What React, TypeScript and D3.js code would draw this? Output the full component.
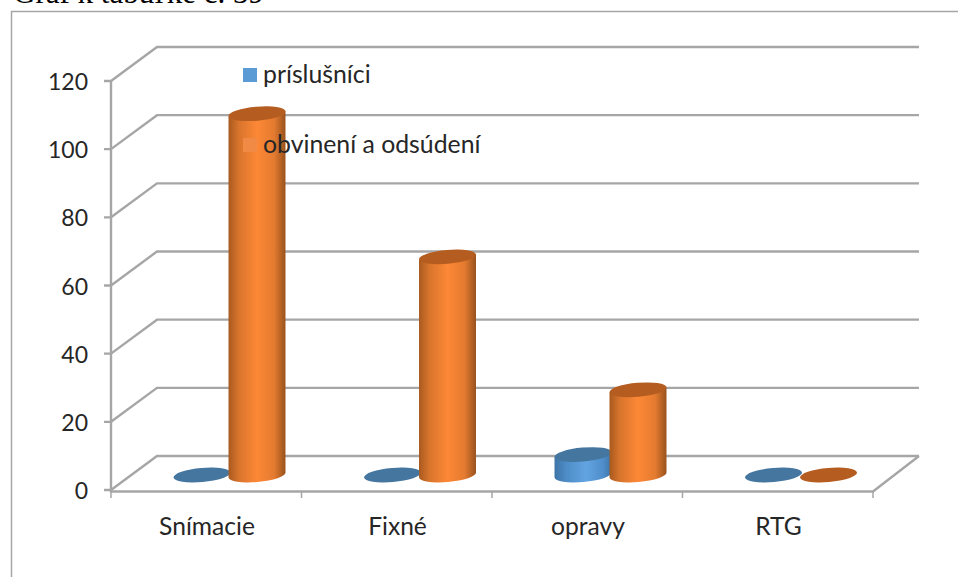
import * as d3 from "d3";

const categories = ["Snímacie", "Fixné", "opravy", "RTG"];
const seriesNames = ["príslušníci", "obvinení a odsúdení"];
const prislusnici = [0, 0, 6, 0];
const obvineni = [106, 64, 25, 0];
const yTicks = [0, 20, 40, 60, 80, 100, 120];

const width = 958;
const height = 577;
const depthX = 46;
const depthY = 34;
const gray = "#a6a6a6";
const textColor = "#262626";
const labelFont = "Lato, sans-serif";

const y = d3.scaleLinear().domain([0, 120]).range([490, 81]);
const x = d3.scaleBand<string>().domain(categories).range([111, 873]);
const inner = d3.scaleBand<string>().domain(seriesNames).range([63.5, 173.5]);

const rx = 28.6;
const ry = 7;
const tilt = -5;
const baseY = y(0) - 15;

// one cylinder, a zero value leaves just the lid
const Cylinder = ({ cx, value, fill, lid }: { cx: number; value: number; fill: string; lid: string }) => {
  const top = baseY - (y(0) - y(value));
  const dy = rx * Math.sin((-tilt * Math.PI) / 180);
  const dx = rx * Math.cos((tilt * Math.PI) / 180);
  const body = `M${cx - dx},${top + dy} L${cx - dx},${baseY + dy} A${rx},${ry} ${tilt} 0 0 ${cx + dx},${baseY - dy} L${cx + dx},${top - dy} Z`;
  return (
    <g>
      {value > 0 && <path d={body} fill={`url(#${fill})`} />}
      <ellipse cx={cx} cy={top} rx={rx} ry={ry} fill={lid} transform={`rotate(${tilt} ${cx} ${top})`} />
    </g>
  );
};

export default function App() {
  return (
    <svg width={width} height={height} style={{ position: "absolute", left: 0, top: 0, background: "#fff" }}>
      <defs>
        <linearGradient id="gradBlue">
          <stop offset="0" stopColor="#3d74a6" />
          <stop offset="0.2" stopColor="#4d8cc6" />
          <stop offset="0.55" stopColor="#62a4e2" />
          <stop offset="0.85" stopColor="#4f8ecb" />
          <stop offset="1" stopColor="#3d74a6" />
        </linearGradient>
        <linearGradient id="gradOrange">
          <stop offset="0" stopColor="#a85a1f" />
          <stop offset="0.18" stopColor="#d8742c" />
          <stop offset="0.5" stopColor="#fd8836" />
          <stop offset="0.8" stopColor="#e47b30" />
          <stop offset="1" stopColor="#99521d" />
        </linearGradient>
      </defs>

      {/* the caption runs off the top of the page in the original too */}
      <text x={13} y={3} fontFamily="'Liberation Serif', serif" fontSize={31} fill="#000">
        Graf k tabuľke č. 39
      </text>
      <path d={`M11.5,${height} V11.5 H${width}`} fill="none" stroke={gray} strokeWidth={1.5} />

      {yTicks.map((t) => (
        <g key={t}>
          <path
            d={`M104,${y(t)} H111 L${111 + depthX},${y(t) - depthY} H${873 + depthX}`}
            fill="none"
            stroke={gray}
            strokeWidth={2.4}
          />
          <text x={88} y={y(t) + 9} textAnchor="end" fontFamily={labelFont} fontSize={23} fill={textColor}>
            {t}
          </text>
        </g>
      ))}

      <path
        d={`M111,${y(120)} V${y(0) + 1.5} H873 L${873 + depthX},${y(0) - depthY}`}
        fill="none"
        stroke={gray}
        strokeWidth={2.4}
      />
      {[...categories.map((c) => x(c) as number), 873].map((t) => (
        <line key={t} x1={t} x2={t} y1={y(0) + 1} y2={y(0) + 8} stroke={gray} strokeWidth={1.5} />
      ))}

      {categories.map((c, i) => {
        const x0 = x(c) as number;
        return (
          <g key={c}>
            <Cylinder
              cx={x0 + (inner(seriesNames[0]) as number) + inner.bandwidth() / 2}
              value={prislusnici[i]}
              fill="gradBlue"
              lid="#44769f"
            />
            <Cylinder
              cx={x0 + (inner(seriesNames[1]) as number) + inner.bandwidth() / 2}
              value={obvineni[i]}
              fill="gradOrange"
              lid="#b55d20"
            />
            <text
              x={x0 + 96}
              y={535}
              textAnchor="middle"
              fontFamily={labelFont}
              fontSize={24.6}
              fill={textColor}
            >
              {c}
            </text>
          </g>
        );
      })}

      <rect x={243} y={68} width={14} height={14} fill="#5b9bd5" />
      <text x={263} y={83} fontFamily={labelFont} fontSize={24.8} fill={textColor}>
        {seriesNames[0]}
      </text>
      <rect x={243} y={138} width={14} height={14} fill="#f08a45" />
      <text x={263} y={153} fontFamily={labelFont} fontSize={24.8} fill={textColor}>
        {seriesNames[1]}
      </text>
    </svg>
  );
}
